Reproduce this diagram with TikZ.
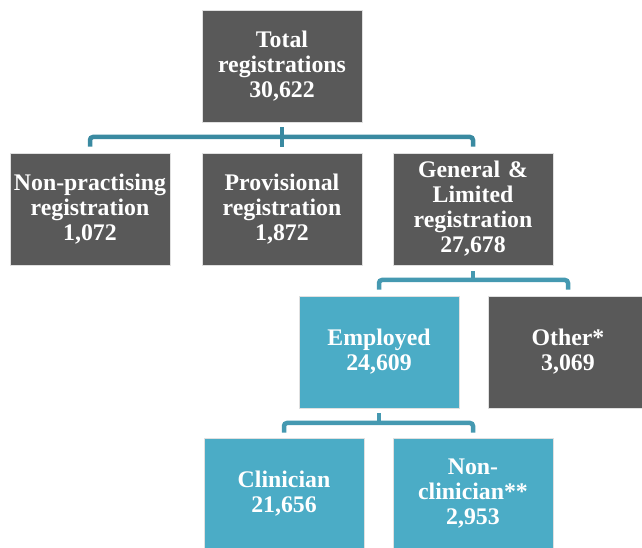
\documentclass[tikz,border=0pt]{standalone}
\usepackage{fontspec}
\setmainfont{Liberation Serif}
\definecolor{darkbox}{HTML}{595959}
\definecolor{bluebox}{HTML}{4BACC6}
\definecolor{conntop}{HTML}{3A8AA1}
\definecolor{connlow}{HTML}{4599B1}
\begin{document}
\begin{tikzpicture}[x=1pt,y=1pt,
  box/.style={minimum width=160pt,minimum height=112pt,inner sep=0pt,
    text width=158pt,align=center,text=white,
    font=\bfseries\fontsize{23.8}{25}\selectfont,
    draw=black!12,line width=0.6pt},
  greybox/.style={box,fill=darkbox},
  bluebx/.style={box,fill=bluebox},
  conn/.style={line width=4.5pt,rounded corners=3pt}]
\useasboundingbox (0,0) rectangle (642,548);
% nodes
\node[greybox] (top) at (282,482) {Total\\registrations\\30,622};
\node[greybox] (np) at (90,339) {Non-practising\\registration\\1,072};
\node[greybox] (prov) at (282,339) {Provisional\\registration\\1,872};
\node[greybox] (gen) at (473,339) {General \&\\Limited\\registration\\27,678};
\node[bluebx] (emp) at (379,196) {Employed\\24,609};
\node[greybox] (oth) at (568,196) {Other*\\3,069};
\node[bluebx] (clin) at (284,54) {Clinician\\21,656};
\node[bluebx] (ncl) at (473,54) {Non-\\clinician**\\2,953};
% connectors
\coordinate (b1) at (0,411);
\coordinate (b2) at (0,268);
\coordinate (b3) at (0,125);
\draw[conn,draw=conntop] ([yshift=-5pt]top.south) -- ([yshift=6pt]prov.north);
\draw[conn,draw=conntop] ([yshift=6pt]np.north) |- (gen.north |- b1) -- ([yshift=6pt]gen.north);
\draw[conn,draw=connlow] ([yshift=-6pt]gen.south) -- (gen.south |- b2);
\draw[conn,draw=connlow] ([yshift=6pt]emp.north) |- (oth.north |- b2) -- ([yshift=6pt]oth.north);
\draw[conn,draw=connlow] ([yshift=-5pt]emp.south) -- (emp.south |- b3);
\draw[conn,draw=connlow] ([yshift=5pt]clin.north) |- (ncl.north |- b3) -- ([yshift=5pt]ncl.north);
\end{tikzpicture}
\end{document}
